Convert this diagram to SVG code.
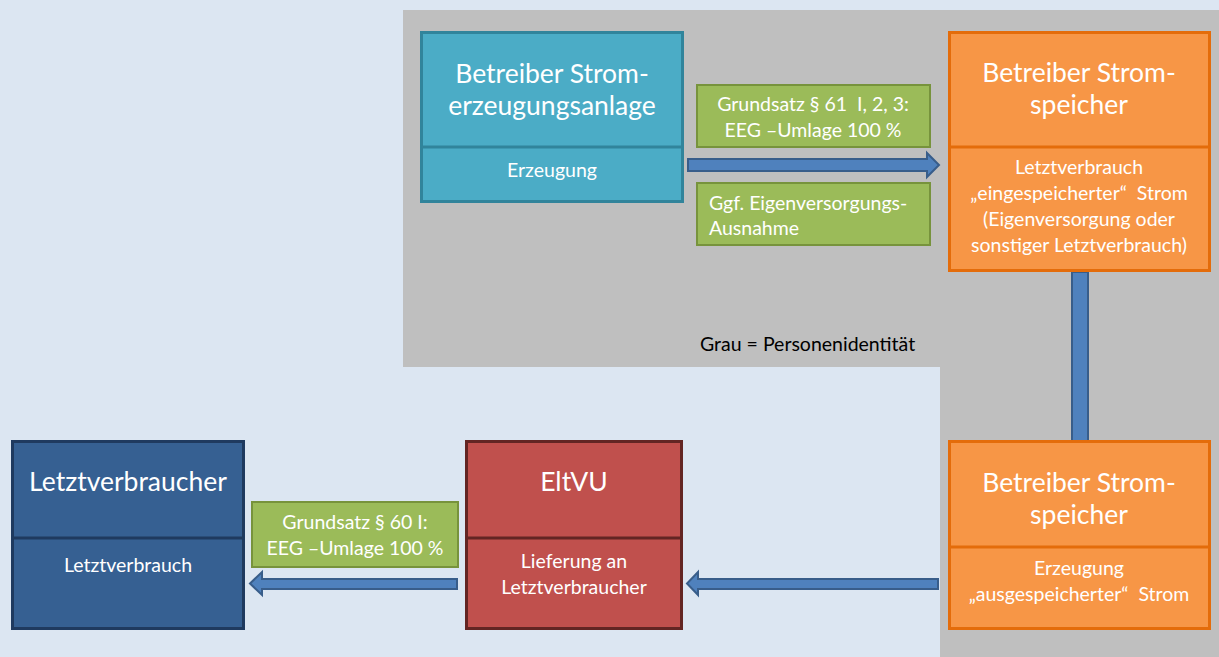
<svg xmlns="http://www.w3.org/2000/svg" width="1219" height="657" viewBox="0 0 1219 657">
<style>
text{font-family:Lato,"Open Sans","Liberation Sans",sans-serif;fill:#fff;text-anchor:middle}
.t{font-size:26.5px}
.s{font-size:19.5px}
.g{font-size:19.5px}
.teal{fill:#4bacc6;stroke:#31849b;stroke-width:3}
.org{fill:#f79646;stroke:#e46c0a;stroke-width:3}
.dblue{fill:#366092;stroke:#1f3a5f;stroke-width:3}
.red{fill:#c0504d;stroke:#632523;stroke-width:3}
.grn{fill:#9bbb59;stroke:#77933c;stroke-width:2}
.arr{fill:#4f81bd;stroke:#385d8a;stroke-width:2}
</style>
<rect width="1219" height="657" fill="#dce6f2"/>
<polygon points="403,10 1219,10 1219,657 940,657 940,367 403,367" fill="#bfbfbf"/>
<text x="700" y="351" style="fill:#000;text-anchor:start;font-size:19.5px">Grau = Personenidentität</text>
<g id="connectors">
<polygon class="arr" points="688,159 927,159 927,153 939,165 927,177 927,171 688,171"/>
<rect class="arr" x="1072" y="272" width="16" height="169"/>
<polygon class="arr" points="938,579 698,579 698,572 687,583.5 698,595 698,589 938,589"/>
<polygon class="arr" points="457,579 262,579 262,572 250,583.5 262,595 262,589 457,589"/>
</g>
<g id="erzeuger">
<rect class="teal" x="421.5" y="32.5" width="261" height="169"/>
<line class="teal" x1="421.5" y1="147" x2="682.5" y2="147"/>
<text class="t" x="552" y="83">Betreiber Strom-</text>
<text class="t" x="552" y="115">erzeugungsanlage</text>
<text class="s" x="552" y="177">Erzeugung</text>
</g>
<g id="label-grundsatz61">
<rect class="grn" x="697" y="85" width="233" height="62"/>
<text class="g" x="813" y="111">Grundsatz § 61&#160; I, 2, 3:</text>
<text class="g" x="813" y="137">EEG –Umlage 100 %</text>
</g>
<g id="label-eigenversorgung">
<rect class="grn" x="697" y="183" width="233" height="62"/>
<text class="g" x="709" y="210" style="text-anchor:start">Ggf. Eigenversorgungs-</text>
<text class="g" x="709" y="235" style="text-anchor:start">Ausnahme</text>
</g>
<g id="speicher-oben">
<rect class="org" x="949.5" y="32.5" width="260" height="238"/>
<line class="org" x1="949.5" y1="147" x2="1209.5" y2="147"/>
<text class="t" x="1079" y="82">Betreiber Strom-</text>
<text class="t" x="1079" y="114">speicher</text>
<text class="s" x="1079" y="174">Letztverbrauch</text>
<text class="s" x="1079" y="200">„eingespeicherter“&#160; Strom</text>
<text class="s" x="1079" y="226">(Eigenversorgung oder</text>
<text class="s" x="1079" y="252">sonstiger Letztverbrauch)</text>
</g>
<g id="speicher-unten">
<rect class="org" x="949.5" y="441.5" width="260" height="187"/>
<line class="org" x1="949.5" y1="547" x2="1209.5" y2="547"/>
<text class="t" x="1079" y="492">Betreiber Strom-</text>
<text class="t" x="1079" y="524">speicher</text>
<text class="s" x="1079" y="575">Erzeugung</text>
<text class="s" x="1079" y="601">„ausgespeicherter“&#160; Strom</text>
</g>
<g id="eltvu">
<rect class="red" x="466.5" y="441.5" width="215" height="187"/>
<line class="red" x1="466.5" y1="538" x2="681.5" y2="538"/>
<text class="t" x="574" y="491">EltVU</text>
<text class="s" x="574" y="568">Lieferung an</text>
<text class="s" x="574" y="594">Letztverbraucher</text>
</g>
<g id="label-grundsatz60">
<rect class="grn" x="252" y="502" width="206" height="65"/>
<text class="g" x="355" y="529">Grundsatz § 60 I:</text>
<text class="g" x="355" y="555">EEG –Umlage 100 %</text>
</g>
<g id="letztverbraucher">
<rect class="dblue" x="12.5" y="441.5" width="231" height="187"/>
<line class="dblue" x1="12.5" y1="538" x2="243.5" y2="538"/>
<text class="t" x="128" y="491">Letztverbraucher</text>
<text class="s" x="128" y="572">Letztverbrauch</text>
</g>
</svg>
